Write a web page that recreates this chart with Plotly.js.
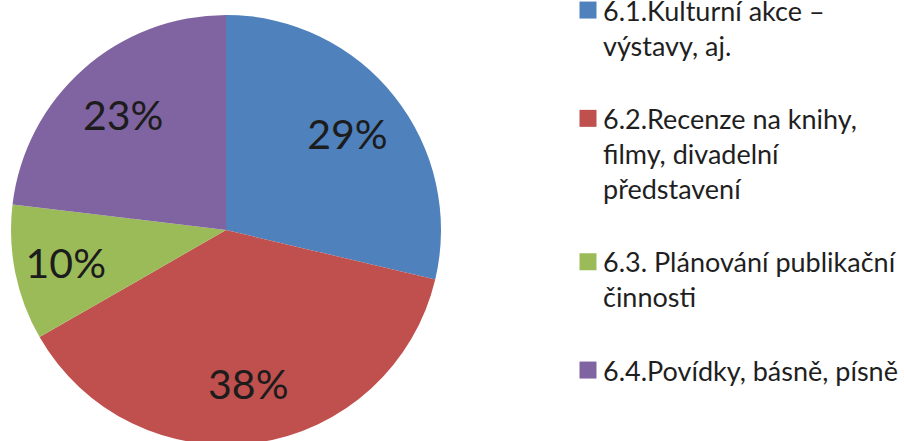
<!DOCTYPE html>
<html>
<head>
<meta charset="utf-8">
<script src="https://cdn.plot.ly/plotly-3.0.1.min.js"></script>
<style>
html, body { margin: 0; padding: 0; overflow: hidden; background: #fff; }
#chart { width: 904px; }
/* the reference uses larger legend squares, set a little closer to the text */
#chart path.legendpie { d: path("M13.5,8.5H-3.5V-8.5H13.5Z"); }
</style>
</head>
<body>
<div id="chart"></div>
<script>
// Categories (legend text, as wrapped in the reference)
const categories = [
  "6.1.Kulturní akce –<br>výstavy, aj.",
  "6.2.Recenze na knihy,<br>filmy, divadelní<br>představení",
  "6.3. Plánování publikační<br>činnosti",
  "6.4.Povídky, básně, písně"
];
// Shares (labels show 29%, 38%, 10%, 23%)
const shares = [28.7, 38.0, 10.2, 23.1];
const colors = ["#4F81BD", "#C0504D", "#9BBB59", "#8064A2"];
// blank lines added after each entry to reproduce the legend's spacing
const legendPadLines = [1, 1, 1, 0];

const legendLabels = categories.map((c, i) => c + "<br>\u00a0".repeat(legendPadLines[i]));

// The reference crops the pie at the bottom and puts the legend tight to the top:
// the plot is drawn a bit taller and shifted up by OFF pixels.
const OFF = 14;
const W = 904, H = 441 + OFF + 24;
document.getElementById("chart").style.marginTop = (-OFF) + "px";

const cx = 226, cy = 230 + OFF, R = 215;   // pie centre and radius in pixels
const HOLE = 0.44;                         // puts the percent labels at ~0.72 R, as in the reference
const rIn = R * HOLE + 1.5;

const FONT = "Lato, 'Open Sans', sans-serif";

// inner filler pie (same data) under the ring, so the chart reads as a full pie
const inner = {
  type: "pie",
  labels: legendLabels,
  values: shares,
  sort: false,
  direction: "clockwise",
  rotation: 0,
  marker: { colors: colors, line: { width: 0 } },
  textinfo: "none",
  hoverinfo: "skip",
  showlegend: false,
  domain: {
    x: [(cx - rIn) / W, (cx + rIn) / W],
    y: [(H - cy - rIn) / H, (H - cy + rIn) / H]
  }
};

const outer = {
  type: "pie",
  labels: legendLabels,
  values: shares,
  sort: false,
  direction: "clockwise",
  rotation: 0,
  hole: HOLE,
  marker: { colors: colors, line: { width: 0 } },
  textinfo: "percent",
  texttemplate: "%{percent:.0%}",
  textposition: "inside",
  insidetextorientation: "horizontal",
  textfont: { family: FONT, size: 41, color: "#1c1c1c" },
  hoverinfo: "label+percent",
  domain: {
    x: [(cx - R) / W, (cx + R) / W],
    y: [(H - cy - R) / H, (H - cy + R) / H]
  }
};

const layout = {
  width: W,
  height: H,
  margin: { l: 0, r: 0, t: 0, b: 0 },
  paper_bgcolor: "#ffffff",
  showlegend: true,
  legend: {
    x: 563 / W,
    xanchor: "left",
    y: 1,
    yanchor: "top",
    valign: "top",
    font: { family: FONT, size: 27, color: "#1f1f1f" },
    itemwidth: 30,
    bgcolor: "rgba(0,0,0,0)"
  }
};

Plotly.newPlot("chart", [inner, outer], layout, { displayModeBar: false, staticPlot: true });
</script>
</body>
</html>
